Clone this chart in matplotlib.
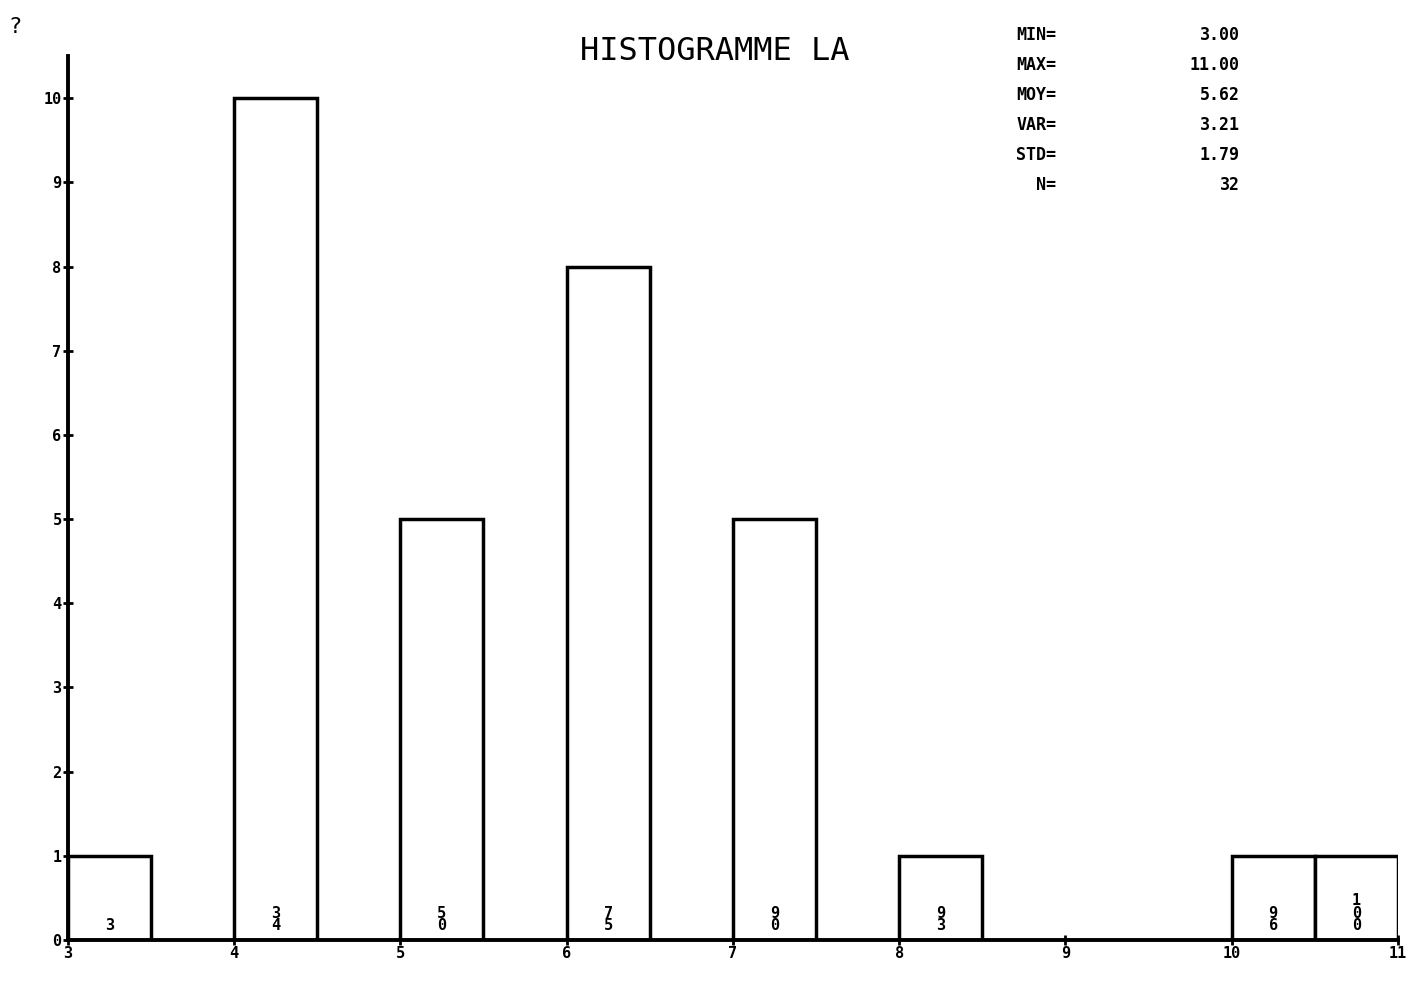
import numpy as np
import matplotlib.pyplot as plt

# classes de l'histogramme (borne gauche, largeur 0.5) et effectifs
bornes = [3, 4, 5, 6, 7, 8, 10, 10.5]
effectifs = [1, 10, 5, 8, 5, 1, 1, 1]
largeur = 0.5

stat_noms = ['MIN=', 'MAX=', 'MOY=', 'VAR=', 'STD=', 'N=']
stat_valeurs = ['3.00', '11.00', '5.62', '3.21', '1.79', '32']

x_ticks = [3, 4, 5, 6, 7, 8, 9, 10, 11]
y_ticks = [0, 1, 2, 3, 4, 5, 6, 7, 8, 9, 10]

plt.rcParams['font.family'] = 'DejaVu Sans Mono'

fig = plt.figure(figsize=(14.12, 9.82), dpi=100)
ax = fig.add_axes([0.048, 0.0428, 0.942, 0.900])

ax.bar(bornes, effectifs, width=largeur, align='edge',
       facecolor='white', edgecolor='black', linewidth=2.5, zorder=2)

# pourcentages cumules ecrits verticalement dans chaque barre
cumul = np.cumsum(effectifs) * 100 // sum(effectifs)
for b, c in zip(bornes, cumul):
    ax.text(b + largeur / 2, 0.08, '\n'.join(str(int(c))), ha='center', va='bottom',
            fontsize=11, fontweight='bold', linespacing=0.8, zorder=3)

ax.set_xlim(3, 11)
ax.set_ylim(0, 10.5)
ax.set_xticks(x_ticks)
ax.set_yticks(y_ticks)
ax.tick_params(axis='both', direction='inout', length=7, width=2, labelsize=11, pad=1)
for lab in ax.get_xticklabels() + ax.get_yticklabels():
    lab.set_fontweight('bold')

for s in ['top', 'right']:
    ax.spines[s].set_visible(False)
for s in ['left', 'bottom']:
    ax.spines[s].set_linewidth(2.8)

fig.text(0.506, 0.948, 'HISTOGRAMME LA', ha='center', va='center', fontsize=23)
fig.text(0.011, 0.972, '?', ha='center', va='center', fontsize=16)

for i, (n, v) in enumerate(zip(stat_noms, stat_valeurs)):
    y = 1 - (35 + i * 29.9) / 982
    fig.text(0.748, y, n, ha='right', va='center', fontsize=12, fontweight='bold')
    fig.text(0.878, y, v, ha='right', va='center', fontsize=12, fontweight='bold')

fig.savefig('out.png', dpi=100)
